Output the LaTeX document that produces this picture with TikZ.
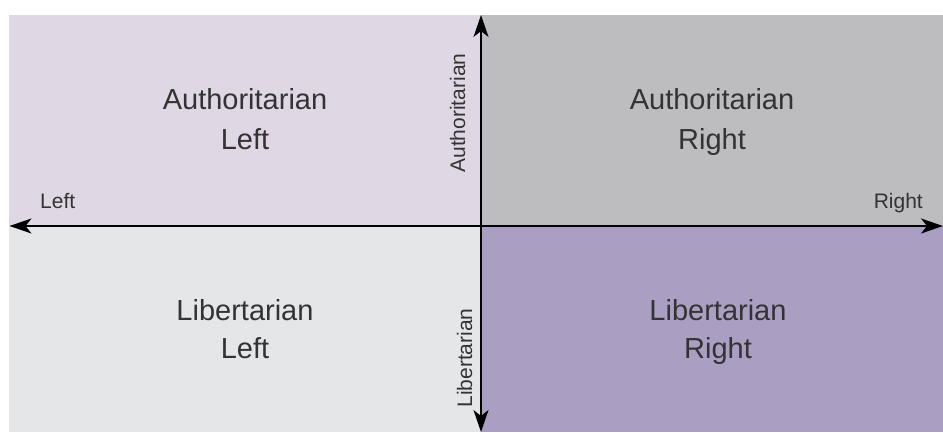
\documentclass[tikz,border=0pt]{standalone}
\usepackage{fontspec}
\setmainfont{Liberation Sans}
\usetikzlibrary{arrows.meta}
\definecolor{qtl}{HTML}{DFD8E4}
\definecolor{qtr}{HTML}{BDBDBF}
\definecolor{qbl}{HTML}{E5E6E8}
\definecolor{qbr}{HTML}{AA9FC2}
\definecolor{txt}{HTML}{333333}
\begin{document}
\begin{tikzpicture}[x=1pt,y=1pt,
  bigtext/.style={text=txt,font=\fontsize{29}{35}\selectfont,anchor=base,inner sep=0pt},
  smalltext/.style={text=txt,font=\fontsize{21}{25}\selectfont,inner sep=0pt},
  axis/.style={line width=1.5pt,black,{Stealth[length=22pt,width=15pt,inset=6pt]}-{Stealth[length=22pt,width=15pt,inset=6pt]}}]
\useasboundingbox (0,0) rectangle (943,432);
\fill[white] (0,0) rectangle (943,432);
% quadrants
\fill[qtl] (9,206) rectangle (481,417);
\fill[qtr] (481,206) rectangle (943,417);
\fill[qbl] (9,0) rectangle (481,206);
\fill[qbr] (481,0) rectangle (943,206);
% axis end points
\coordinate (L) at (9.5,206);
\coordinate (R) at (943,206);
\coordinate (T) at (481,417);
\coordinate (B) at (481,0);
\draw[axis] (L) -- (R);
\draw[axis] (B) -- (T);
% quadrant labels
\node[bigtext] (tl1) at (245,322) {Authoritarian};
\node[bigtext] (tl2) at (245,282) {Left};
\node[bigtext] (tr1) at (712,322) {Authoritarian};
\node[bigtext] (tr2) at (712,282) {Right};
\node[bigtext] (bl1) at (245,112) {Libertarian};
\node[bigtext] (bl2) at (245,74) {Left};
\node[bigtext] (br1) at (718,112) {Libertarian};
\node[bigtext] (br2) at (718,74) {Right};
% axis labels
\node[smalltext,anchor=base west] (lleft) at (40,224) {Left};
\node[smalltext,anchor=base east] (lright) at (923,224) {Right};
\node[smalltext,anchor=base,rotate=90] (lauth) at (465,319) {Authoritarian};
\node[smalltext,anchor=base,rotate=90] (llib) at (472,74) {Libertarian};
\end{tikzpicture}
\end{document}
